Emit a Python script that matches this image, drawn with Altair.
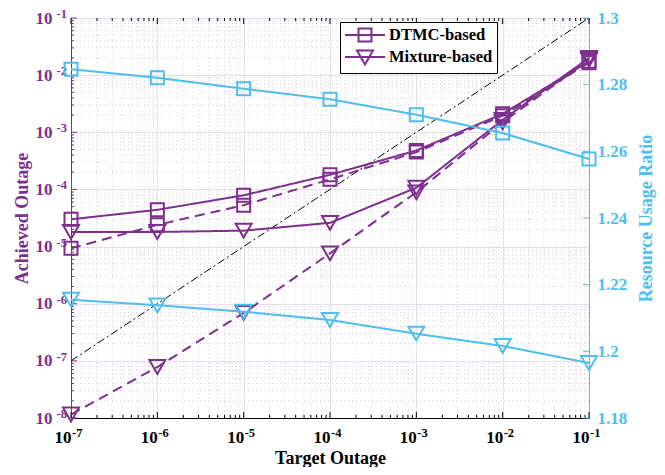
import altair as alt
import pandas as pd

# ---------------- data ----------------
target = [1e-7, 1e-6, 1e-5, 1e-4, 1e-3, 1e-2, 1e-1]
dtmc_solid = [3.0e-5, 4.4e-5, 7.9e-5, 1.8e-4, 4.8e-4, 2.1e-3, 1.75e-2]
dtmc_dashed = [9.3e-6, 2.4e-5, 5.3e-5, 1.5e-4, 4.5e-4, 1.95e-3, 1.65e-2]
mix_solid = [1.8e-5, 1.8e-5, 1.9e-5, 2.6e-5, 1.07e-4, 1.65e-3, 2.0e-2]
mix_dashed = [1.15e-8, 7.8e-8, 6.9e-7, 7.6e-6, 8.9e-5, 1.5e-3, 1.85e-2]
ratio_dtmc = [1.2846, 1.2821, 1.2788, 1.2756, 1.2710, 1.2655, 1.2577]
ratio_mix = [1.2155, 1.2138, 1.2119, 1.2094, 1.2053, 1.2016, 1.1965]
diag_x = [1e-7, 1e-1]
diag_y = [1e-7, 1e-1]

legend_names = ["DTMC-based", "Mixture-based"]
x_ticks = [1e-7, 1e-6, 1e-5, 1e-4, 1e-3, 1e-2, 1e-1]
x_tick_exp = ["-7", "-6", "-5", "-4", "-3", "-2", "-1"]
y_ticks = [1e-8, 1e-7, 1e-6, 1e-5, 1e-4, 1e-3, 1e-2, 1e-1]
y_tick_exp = ["-8", "-7", "-6", "-5", "-4", "-3", "-2", "-1"]
tick_base = "10"
ratio_ticks = [1.18, 1.2, 1.22, 1.24, 1.26, 1.28, 1.3]

x_minor = [k * d for d in [1e-7, 1e-6, 1e-5, 1e-4, 1e-3, 1e-2] for k in range(2, 10)]
y_minor = [k * d for d in [1e-8, 1e-7, 1e-6, 1e-5, 1e-4, 1e-3, 1e-2] for k in range(2, 10)]

# ---------------- style ----------------
PURPLE = "#7E2F8E"
BLUE = "#4DBEEE"
FONT = "Liberation Serif"
W, H = 518, 400

xscale = alt.Scale(type="log", domain=[1e-7, 1e-1])
yscale = alt.Scale(type="log", domain=[1e-8, 1e-1])
rscale = alt.Scale(domain=[1.18, 1.3], zero=False, nice=False)

xaxis = alt.Axis(values=x_ticks, labelExpr="'%s'" % tick_base, grid=True, gridColor="#e4e4e4",
                 ticks=False, tickSize=0, domainColor="black", labelFont=FONT, labelFontSize=17,
                 labelFontWeight="bold", labelColor="black", labelPadding=19,
                 labelAlign="right", labelBaseline="middle", labelFlush=False, labelOverlap=False,
                 title="Target Outage", titleFont=FONT, titleFontSize=18,
                 titleFontWeight="bold", titleColor="black",
                 titleX=W / 2, titleY=40, titleBaseline="middle", titleAlign="center")
yaxis = alt.Axis(values=y_ticks, labelExpr="'%s'" % tick_base, grid=True, gridColor="#e6dcea",
                 ticks=False, tickSize=0, domainColor=PURPLE, labelFont=FONT, labelFontSize=17,
                 labelFontWeight="bold", labelColor=PURPLE, labelPadding=19,
                 labelAlign="right", labelBaseline="middle", labelFlush=False, labelOverlap=False,
                 title="Achieved Outage", titleFont=FONT, titleFontSize=18,
                 titleFontWeight="bold", titleColor=PURPLE, titleAngle=270,
                 titleX=-49, titleY=H / 2, titleBaseline="middle", titleAlign="center")
raxis = alt.Axis(values=ratio_ticks, format="~g", grid=False, orient="right",
                 ticks=False, tickSize=0, domainColor=BLUE, labelFont=FONT, labelFontSize=17,
                 labelFontWeight="bold", labelColor=BLUE, labelPadding=8,
                 labelBaseline="middle", labelFlush=False, labelOverlap=False,
                 title="Resource Usage Ratio", titleFont=FONT, titleFontSize=18,
                 titleFontWeight="bold", titleColor=BLUE, titleAngle=270,
                 titleX=57, titleY=H / 2, titleBaseline="middle", titleAlign="center")

# ---------------- tables ----------------
rows = []
for name, vals, method, style in [("ds", dtmc_solid, "DTMC", "solid"),
                                   ("dd", dtmc_dashed, "DTMC", "dashed"),
                                   ("ms", mix_solid, "Mixture", "solid"),
                                   ("md", mix_dashed, "Mixture", "dashed")]:
    for t, v in zip(target, vals):
        rows.append(dict(target=t, value=v, series=name, method=method, style=style))
outage = pd.DataFrame(rows)

rrows = []
for vals, method in [(ratio_dtmc, "DTMC"), (ratio_mix, "Mixture")]:
    for t, v in zip(target, vals):
        rrows.append(dict(target=t, ratio=v, method=method))
ratio = pd.DataFrame(rrows)

diag = pd.DataFrame(dict(target=diag_x, value=diag_y))
xminor_df = pd.DataFrame(dict(v=x_minor))
yminor_df = pd.DataFrame(dict(v=y_minor))
xmajor_df = pd.DataFrame(dict(v=x_ticks, e=x_tick_exp))
ymajor_df = pd.DataFrame(dict(v=y_ticks, e=y_tick_exp))
rmajor_df = pd.DataFrame(dict(v=ratio_ticks))
legend_df = pd.DataFrame(dict(method=legend_names))

X = lambda f: alt.X(f, type="quantitative", scale=xscale, axis=xaxis)
Y = lambda f: alt.Y(f, type="quantitative", scale=yscale, axis=yaxis)
R = lambda f: alt.Y(f, type="quantitative", scale=rscale, axis=raxis)

# grids
xgrid = alt.Chart(xminor_df).mark_rule(color="#d2d2d2", strokeDash=[1, 3], strokeWidth=1).encode(x=X("v"))
ygrid = alt.Chart(yminor_df).mark_rule(color="#d6cfda", strokeDash=[1, 3], strokeWidth=1).encode(y=Y("v"))

# inward ticks
tick_bot = alt.Chart(xmajor_df).mark_rule(color="black").encode(x=X("v"), y=alt.value(H), y2=alt.value(H - 6))
tick_top = alt.Chart(xmajor_df).mark_rule(color="black").encode(x=X("v"), y=alt.value(0), y2=alt.value(6))
mtick_bot = alt.Chart(xminor_df).mark_rule(color="black").encode(x=X("v"), y=alt.value(H), y2=alt.value(H - 3))
mtick_top = alt.Chart(xminor_df).mark_rule(color="black").encode(x=X("v"), y=alt.value(0), y2=alt.value(3))
tick_left = alt.Chart(ymajor_df).mark_rule(color=PURPLE).encode(y=Y("v"), x=alt.value(0), x2=alt.value(6))
mtick_left = alt.Chart(yminor_df).mark_rule(color=PURPLE).encode(y=Y("v"), x=alt.value(0), x2=alt.value(3))

# superscript exponents of tick labels
x_sup = alt.Chart(xmajor_df).mark_text(align="left", baseline="middle", font=FONT, fontSize=12.5,
                                       fontWeight="bold", color="black", dx=1).encode(
    x=X("v"), y=alt.value(H + 15), text="e:N")
y_sup = alt.Chart(ymajor_df).mark_text(align="right", baseline="middle", font=FONT, fontSize=12.5,
                                       fontWeight="bold", color=PURPLE, dy=-4).encode(
    y=Y("v"), x=alt.value(-4), text="e:N")

diag_line = alt.Chart(diag).mark_line(color="black", strokeWidth=1, strokeDash=[8, 3, 2, 3]).encode(
    x=X("target"), y=Y("value"))

lines = alt.Chart(outage).mark_line(color=PURPLE, strokeWidth=2).encode(
    x=X("target"), y=Y("value"), detail="series:N",
    strokeDash=alt.StrokeDash("style:N", scale=alt.Scale(domain=["solid", "dashed"], range=[[1, 0], [10, 6]]),
                              legend=None))
pts_sq = alt.Chart(outage).transform_filter("datum.method == 'DTMC'").mark_point(
    shape="square", filled=False, size=169, strokeWidth=2, color=PURPLE, opacity=1).encode(
    x=X("target"), y=Y("value"))
pts_tri = alt.Chart(outage).transform_filter("datum.method == 'Mixture'").mark_point(
    shape="triangle-down", filled=False, size=256, strokeWidth=2, color=PURPLE, opacity=1).encode(
    x=X("target"), y=Y("value"))

# legend (symbols: line with marker); symbol unit = 8 px
sq_path = "M-1,0H4M0.69,-0.81H2.31V0.81H0.69Z"
tri_path = "M-1,0H4M0.5,-0.8H2.5L1.5,0.95Z"
legend_layer = alt.Chart(legend_df).mark_point(filled=False, opacity=0, color=PURPLE).encode(
    shape=alt.Shape("method:N", scale=alt.Scale(domain=legend_names, range=[sq_path, tri_path]),
                    legend=alt.Legend(title=None, orient="none", legendX=269, legendY=4,
                                      symbolSize=256, symbolOpacity=1, symbolStrokeColor=PURPLE,
                                      symbolStrokeWidth=2, symbolFillColor="transparent",
                                      labelFont=FONT, labelFontSize=16.5, labelFontWeight="bold",
                                      labelColor="black", labelOffset=27, rowPadding=0,
                                      padding=4, strokeColor="black", fillColor="white",
                                      cornerRadius=0)))

left = alt.layer(xgrid, ygrid, mtick_bot, mtick_top, tick_bot, tick_top, mtick_left, tick_left,
                 x_sup, y_sup, diag_line, lines, pts_sq, pts_tri, legend_layer)

rlines = alt.Chart(ratio).mark_line(color=BLUE, strokeWidth=2).encode(
    x=X("target"), y=R("ratio"), detail="method:N")
rpts_sq = alt.Chart(ratio).transform_filter("datum.method == 'DTMC'").mark_point(
    shape="square", filled=False, size=169, strokeWidth=2, color=BLUE, opacity=1).encode(
    x=X("target"), y=R("ratio"))
rpts_tri = alt.Chart(ratio).transform_filter("datum.method == 'Mixture'").mark_point(
    shape="triangle-down", filled=False, size=256, strokeWidth=2, color=BLUE, opacity=1).encode(
    x=X("target"), y=R("ratio"))
tick_right = alt.Chart(rmajor_df).mark_rule(color=BLUE).encode(y=R("v"), x=alt.value(W), x2=alt.value(W - 6))

right = alt.layer(tick_right, rlines, rpts_sq, rpts_tri)

chart = alt.layer(left, right).resolve_scale(y="independent").properties(
    width=W, height=H,
    autosize=alt.AutoSizeParams(type="none"),
    padding={"left": 63, "top": 10, "right": 68, "bottom": 49},
    background="white",
).configure_view(stroke="black", strokeWidth=1)

chart.save("out.html", embed_options={"renderer": "svg", "actions": False})
